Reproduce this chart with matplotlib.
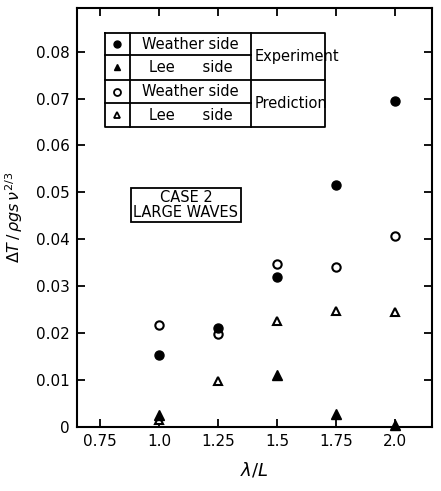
import numpy as np
import matplotlib
matplotlib.use('Agg')
import matplotlib.pyplot as plt

# wavelength ratio lambda / L
x_vals = [1.0, 1.25, 1.5, 1.75, 2.0]

# experiment
exp_weather = [0.0153, 0.0210, 0.0320, 0.0515, 0.0695]
exp_lee = [0.0025, np.nan, 0.0110, 0.0028, 0.0005]
# prediction
pred_weather = [0.0217, 0.0198, 0.0347, 0.0340, 0.0408]
pred_lee = [0.0015, 0.0098, 0.0226, 0.0248, 0.0245]

x_ticks = [0.75, 1.0, 1.25, 1.5, 1.75, 2.0]
x_ticklabels = ['0.75', '1.0', '1.25', '1.5', '1.75', '2.0']
y_ticks = [0, 0.01, 0.02, 0.03, 0.04, 0.05, 0.06, 0.07, 0.08]
y_ticklabels = ['0', '0.01', '0.02', '0.03', '0.04', '0.05', '0.06', '0.07', '0.08']

legend_symbols = ['o', '^', 'o', '^']
legend_filled = [True, True, False, False]
legend_labels = ['Weather side', 'Lee      side', 'Weather side', 'Lee      side']
legend_groups = ['Experiment', 'Prediction']

plt.rcParams['font.family'] = 'DejaVu Sans'

fig = plt.figure(figsize=(4.41, 4.91), dpi=100)
ax = fig.add_axes([77 / 441, (491 - 427) / 491, 355 / 441, 419 / 491])

# data points (open markers first so the filled ones sit on top)
ax.plot(x_vals, pred_weather, 'o', mfc='white', mec='black', mew=1.5, ms=6, clip_on=False)
ax.plot(x_vals, pred_lee, '^', mfc='white', mec='black', mew=1.5, ms=6, clip_on=False)
ax.plot(x_vals, exp_weather, 'o', color='black', ms=6.5, clip_on=False)
ax.plot(x_vals, exp_lee, '^', color='black', ms=6.5, clip_on=False)

ax.set_xlim(0.653, 2.157)
ax.set_ylim(0, 0.0893)
ax.set_xticks(x_ticks)
ax.set_xticklabels(x_ticklabels)
ax.set_yticks(y_ticks)
ax.set_yticklabels(y_ticklabels)
ax.tick_params(direction='in', length=6, width=1.3, labelsize=11,
               top=True, right=True, pad=5)
for sp in ax.spines.values():
    sp.set_linewidth(1.5)

ax.set_xlabel(r'$\lambda/L$', fontsize=13, labelpad=8)
ax.set_ylabel(r'$\Delta T\,/\,\rho g s\,\nu^{2/3}$', fontsize=11.5, labelpad=8)

# legend drawn as a table
tr = ax.transAxes
x_cols = [0.079, 0.149, 0.490, 0.699]
y_rows = [0.940, 0.888, 0.828, 0.773, 0.716]
lw = 1.3
ax.plot([x_cols[0], x_cols[3], x_cols[3], x_cols[0], x_cols[0]],
        [y_rows[0], y_rows[0], y_rows[4], y_rows[4], y_rows[0]],
        color='black', lw=lw, transform=tr, clip_on=False)
for xc in x_cols[1:3]:
    ax.plot([xc, xc], [y_rows[0], y_rows[4]], color='black', lw=lw, transform=tr)
for i, yr in enumerate(y_rows[1:4]):
    x_end = x_cols[3] if i == 1 else x_cols[2]
    ax.plot([x_cols[0], x_end], [yr, yr], color='black', lw=lw, transform=tr)

for i in range(4):
    yc = (y_rows[i] + y_rows[i + 1]) / 2
    if legend_filled[i]:
        ax.plot([(x_cols[0] + x_cols[1]) / 2], [yc], legend_symbols[i], color='black',
                ms=5, transform=tr)
    else:
        ax.plot([(x_cols[0] + x_cols[1]) / 2], [yc], legend_symbols[i], mfc='white',
                mec='black', mew=1.3, ms=5, transform=tr)
    ax.text((x_cols[1] + x_cols[2]) / 2, yc, legend_labels[i], transform=tr,
            ha='center', va='center', fontsize=10.5)
for j in range(2):
    yc = (y_rows[2 * j] + y_rows[2 * j + 2]) / 2
    ax.text(x_cols[2] + 0.01, yc, legend_groups[j], transform=tr,
            ha='left', va='center', fontsize=10.5)

ax.text(0.307, 0.530, 'CASE 2\nLARGE WAVES', transform=tr, ha='center', va='center',
        fontsize=10.5, linespacing=0.95,
        bbox=dict(boxstyle='square,pad=0.15', fc='white', ec='black', lw=1.3))

fig.savefig('out.png', dpi=100)
